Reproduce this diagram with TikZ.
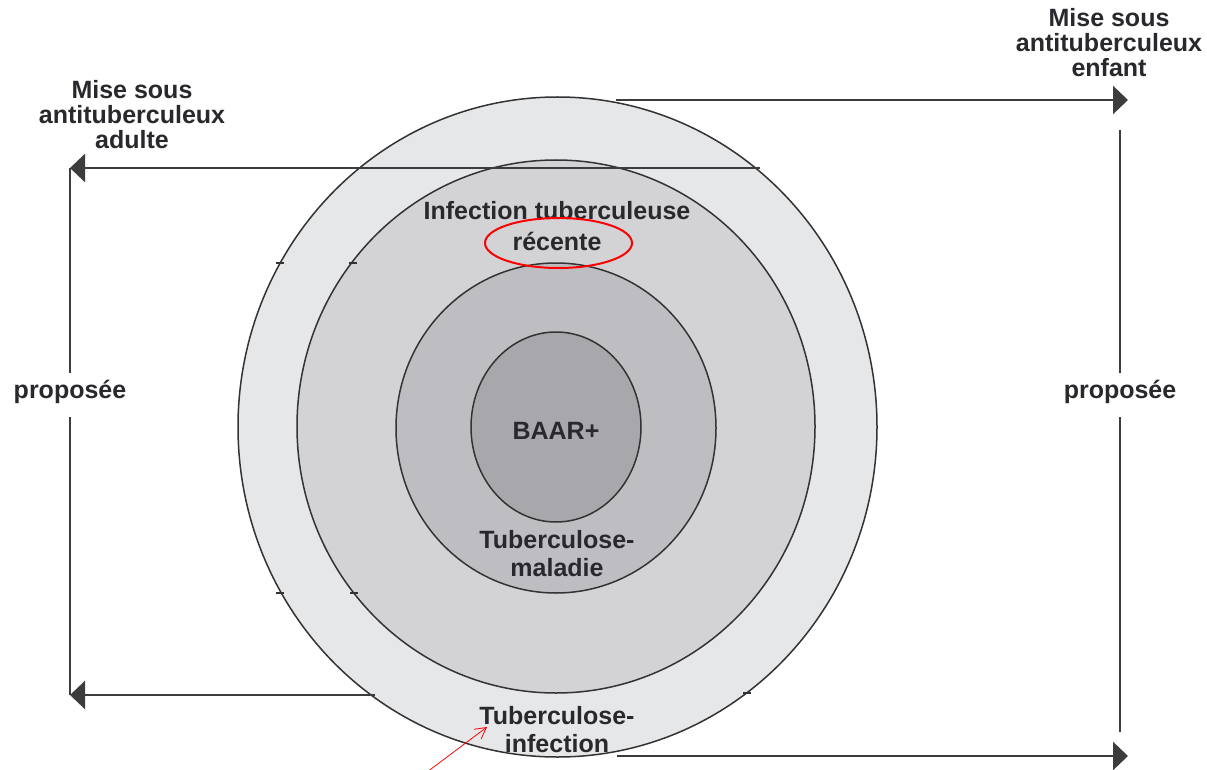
\documentclass[tikz,border=0pt]{standalone}
\usepackage{fontspec}
\setmainfont{Liberation Sans}
\usetikzlibrary{arrows.meta,shapes.geometric}
\definecolor{ringA}{RGB}{230,231,233}
\definecolor{ringB}{RGB}{211,211,214}
\definecolor{ringC}{RGB}{190,190,194}
\definecolor{ringD}{RGB}{168,168,172}
\definecolor{txt}{RGB}{40,40,45}
\definecolor{conn}{RGB}{60,60,60}
\begin{document}
\begin{tikzpicture}[x=1pt,y=-1pt,
  ring/.style={ellipse,draw=black!80,line width=1.5pt,inner sep=0pt,outer sep=0pt},
  lbl/.style={font=\bfseries\fontsize{25}{25}\selectfont,text=txt,align=center,inner sep=0pt},
  rlbl/.style={font=\bfseries\fontsize{25}{28}\selectfont,text=txt,align=center,inner sep=0pt},
  conline/.style={draw=conn,line width=2.4pt},
  conarrow/.style={conline,-{Triangle[length=15pt,width=28pt]}},
  tickmark/.style={draw=black!80,line width=1.4pt}
]
\useasboundingbox (0,0) rectangle (1207,770);
\fill[white] (0,0) rectangle (1207,770);

% concentric ellipses
\node[ring,fill=ringA,minimum width=639pt,minimum height=660pt] (outer) at (557.5,427) {};
\node[ring,fill=ringB,minimum width=518pt,minimum height=533pt] (second) at (556,426.5) {};
\node[ring,fill=ringC,minimum width=320pt,minimum height=330pt] (third) at (556,428) {};
\node[ring,fill=ringD,minimum width=170pt,minimum height=190pt] (inner) at (556,427) {};

% small tick marks
\draw[tickmark] (276,263) -- (284,263);
\draw[tickmark] (349,263) -- (357,263);
\draw[tickmark] (276,593) -- (284,593);
\draw[tickmark] (350,593) -- (358,593);
\draw[tickmark] (743,693) -- (751,693);

% texts in rings
\node[rlbl] (inf) at (557,211) {Infection tuberculeuse};
\node[rlbl] (rec) at (557,241) {récente};
\node[rlbl] (baar) at (556,431) {BAAR+};
\node[rlbl] (tbm) at (557,554) {Tuberculose-\\maladie};
\node[rlbl] (tbi) at (557,730) {Tuberculose-\\infection};

% side labels
\node[lbl] (adult) at (132,115) {Mise sous\\antituberculeux\\adulte};
\node[lbl] (child) at (1109,43) {Mise sous\\antituberculeux\\enfant};
\node[lbl] (propL) at (70,392) {proposée};
\node[lbl] (propR) at (1120,392) {proposée};

% connector coordinates
\coordinate (tS) at (616,100);
\coordinate (tE) at (1128,100);
\coordinate (lS) at (760,168);
\coordinate (lE) at (70,168);
\coordinate (lV1) at (70,373);
\coordinate (lV2) at (70,417);
\coordinate (lB) at (70,695);
\coordinate (lBS) at (375,695);
\coordinate (rV0) at (1120,130);
\coordinate (rV1) at (1120,373);
\coordinate (rV2) at (1120,417);
\coordinate (rV3) at (1120,732);
\coordinate (bS) at (617,756);
\coordinate (bE) at (1128,756);

\draw[conarrow] (tS) -- (tE);
\draw[conarrow] (lS) -- (lE);
\draw[conline] (lE) -- (lV1);
\draw[conline] (lV2) -- (lB);
\draw[conarrow] (lBS) -- (lB);
\draw[conline] (rV0) -- (rV1);
\draw[conline] (rV2) -- (rV3);
\draw[conarrow] (bS) -- (bE);

% red annotations
\node[ellipse,draw=red,line width=2pt,minimum width=147pt,minimum height=50pt,inner sep=0pt] (redmark) at (558.5,243) {};
\coordinate (redtail) at (427,772);
\coordinate (redtip) at (487,727);
\draw[red,line width=0.8pt,-{Straight Barb[length=11pt,width=12pt]}] (redtail) -- (redtip);
\end{tikzpicture}
\end{document}
